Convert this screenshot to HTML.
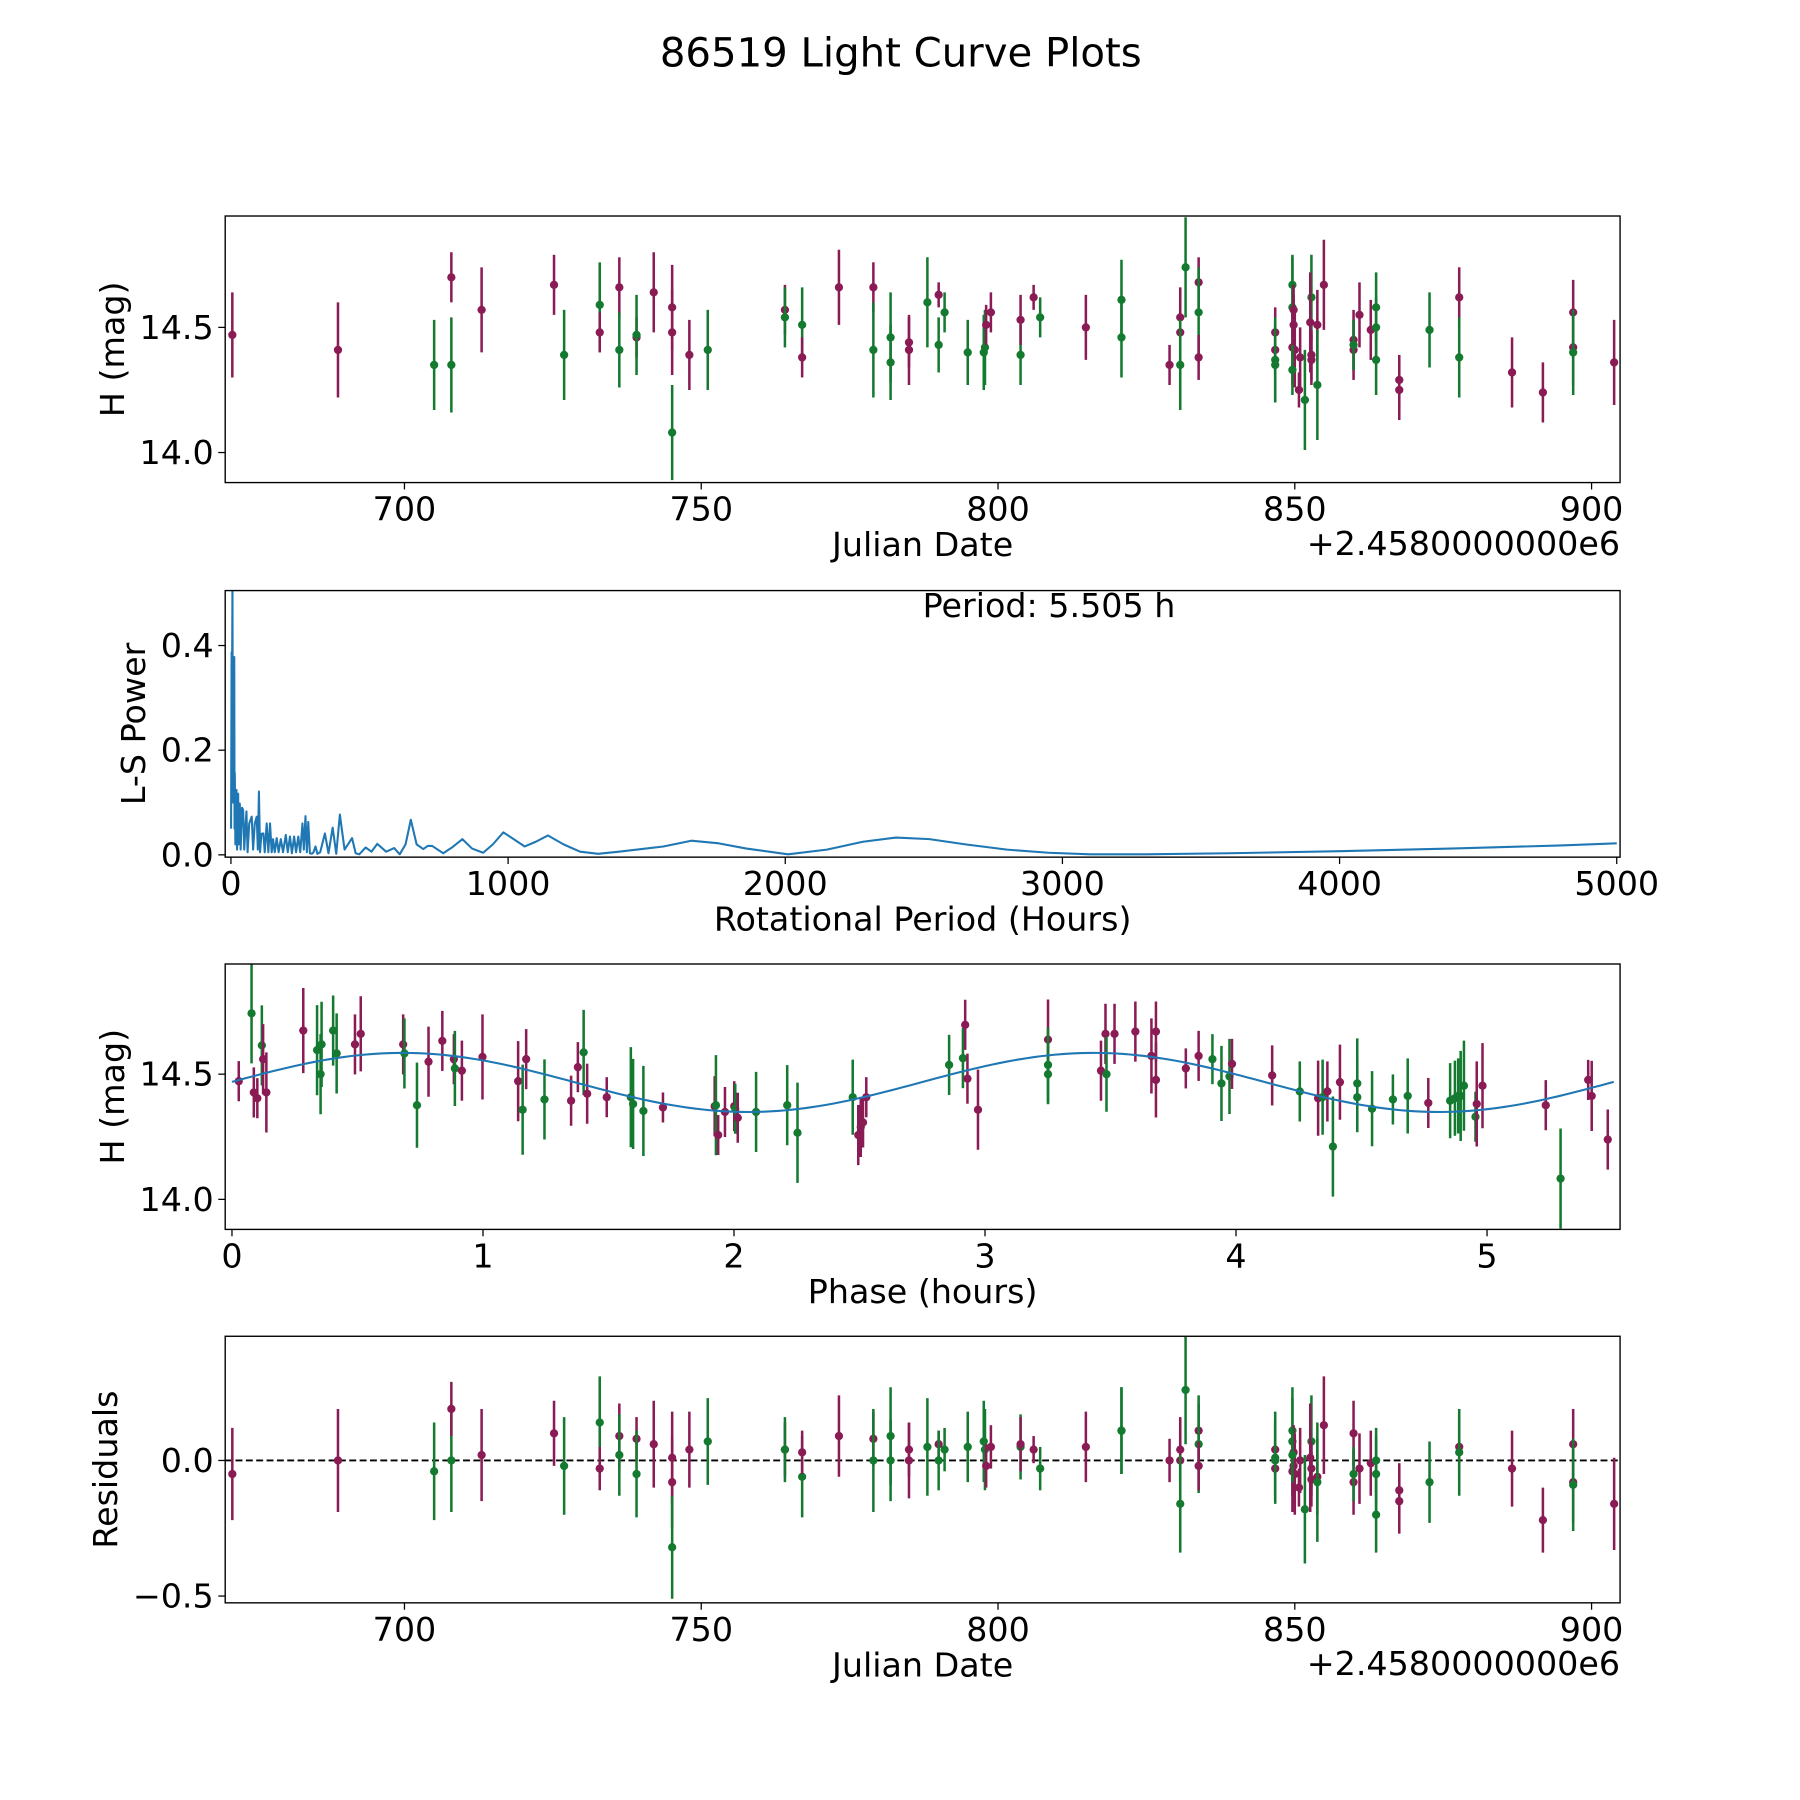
<!DOCTYPE html>
<html><head><meta charset="utf-8"><title>86519 Light Curve Plots</title>
<style>html,body{margin:0;padding:0;background:#fff}svg{display:block}text{font-family:"DejaVu Sans","Liberation Sans",sans-serif;fill:#000}</style>
</head><body>
<svg id="fig" xmlns="http://www.w3.org/2000/svg" width="1800" height="1800" viewBox="0 0 1566.6 1566.6">
<rect width="1570" height="1570" fill="#fff"/>
<text x="784" y="58" font-size="35" text-anchor="middle">86519 Light Curve Plots</text>
</svg>
<script>
// ---- Light curve data (Julian Date offset from 2458000) ----
const jd = [671.0,688.8,705.0,707.9,707.9,713.0,725.2,726.9,732.9,732.9,736.2,736.2,739.1,739.1,742.0,745.1,745.1,745.1,748.0,751.1,764.1,764.1,767.0,767.0,773.2,779.0,779.0,781.9,781.9,785.0,785.0,788.1,790.0,790.0,791.0,794.9,797.6,797.8,798.0,798.8,803.8,803.8,806.0,807.1,814.8,820.8,820.8,828.9,830.7,830.7,830.7,831.6,833.8,833.8,833.8,846.7,846.7,846.7,846.7,849.6,849.6,849.8,849.8,849.6,850.0,849.6,850.7,850.9,851.7,852.8,852.6,852.8,852.8,853.8,853.8,854.9,859.9,859.9,859.9,860.9,862.8,863.7,863.7,863.7,867.6,867.6,872.7,877.7,877.7,886.6,891.8,896.9,896.9,896.9,903.8];
const mag = [14.47,14.41,14.35,14.35,14.70,14.57,14.67,14.39,14.59,14.48,14.66,14.41,14.46,14.47,14.64,14.58,14.48,14.08,14.39,14.41,14.57,14.54,14.51,14.38,14.66,14.66,14.41,14.46,14.36,14.44,14.41,14.60,14.63,14.43,14.56,14.40,14.40,14.42,14.51,14.56,14.39,14.53,14.62,14.54,14.50,14.61,14.46,14.35,14.54,14.48,14.35,14.74,14.68,14.56,14.38,14.48,14.41,14.37,14.35,14.67,14.58,14.57,14.51,14.42,14.41,14.33,14.25,14.38,14.21,14.62,14.52,14.39,14.37,14.51,14.27,14.67,14.45,14.41,14.43,14.55,14.49,14.50,14.58,14.37,14.29,14.25,14.49,14.62,14.38,14.32,14.24,14.56,14.42,14.40,14.36];
const magErr = [0.17,0.19,0.18,0.19,0.10,0.17,0.12,0.18,0.17,0.08,0.12,0.15,0.08,0.16,0.16,0.17,0.17,0.19,0.14,0.16,0.10,0.12,0.15,0.08,0.15,0.10,0.19,0.18,0.15,0.10,0.14,0.18,0.05,0.11,0.08,0.13,0.15,0.15,0.08,0.08,0.12,0.10,0.05,0.08,0.13,0.16,0.16,0.08,0.12,0.12,0.18,0.20,0.10,0.18,0.09,0.10,0.10,0.17,0.15,0.12,0.20,0.10,0.12,0.15,0.15,0.10,0.07,0.12,0.20,0.17,0.20,0.10,0.10,0.14,0.22,0.18,0.12,0.12,0.10,0.13,0.12,0.12,0.14,0.14,0.10,0.12,0.15,0.12,0.16,0.14,0.12,0.13,0.15,0.17,0.17];
const residuals = [-0.05,0.00,-0.04,0.00,0.19,0.02,0.10,-0.02,0.14,-0.03,0.09,0.02,0.08,-0.05,0.06,0.01,-0.08,-0.32,0.04,0.07,0.04,0.04,-0.06,0.03,0.09,0.08,0.00,0.09,0.00,0.04,0.00,0.05,0.06,0.00,0.04,0.05,0.07,0.04,-0.02,0.05,0.05,0.06,0.04,-0.03,0.05,0.11,0.11,0.00,0.04,0.00,-0.16,0.26,0.11,0.06,-0.02,0.04,-0.03,0.01,0.00,0.11,0.07,0.03,-0.02,-0.04,-0.05,0.02,-0.10,0.00,-0.18,0.07,0.01,-0.03,-0.07,-0.06,-0.08,0.13,0.10,-0.08,-0.05,-0.03,-0.01,0.00,-0.05,-0.20,-0.11,-0.15,-0.08,0.05,0.03,-0.03,-0.22,0.06,-0.08,-0.09,-0.16];
const band = ["P","P","G","G","P","P","P","G","G","P","P","G","P","G","P","P","P","G","P","G","P","G","G","P","P","P","G","G","G","P","P","G","P","G","G","G","G","G","P","P","G","P","P","G","P","G","G","P","P","P","G","G","P","G","P","P","P","G","G","G","G","P","P","P","P","G","P","P","G","G","P","P","P","P","G","P","P","P","G","P","P","G","G","G","P","P","G","P","G","P","P","P","P","G","P"];
// ---- Phase-folded data ----
const phase = [0.027,0.078,0.087,0.101,0.119,0.124,0.137,0.284,0.339,0.353,0.357,0.403,0.417,0.490,0.513,0.682,0.687,0.737,0.783,0.838,0.884,0.888,0.916,0.998,1.140,1.158,1.172,1.245,1.351,1.378,1.401,1.415,1.493,1.589,1.598,1.639,1.717,1.923,1.928,1.937,1.964,2.001,2.005,2.015,2.088,2.212,2.253,2.473,2.495,2.505,2.514,2.527,2.857,2.912,2.921,2.930,2.972,3.251,3.251,3.251,3.462,3.480,3.484,3.516,3.599,3.663,3.681,3.681,3.800,3.851,3.906,3.942,3.974,3.984,4.144,4.254,4.327,4.345,4.364,4.386,4.414,4.483,4.483,4.542,4.625,4.684,4.766,4.853,4.872,4.885,4.895,4.908,4.954,4.959,4.982,5.234,5.403,5.417,5.293,5.481];
const phaseMag = [14.472,14.743,14.427,14.404,14.615,14.560,14.427,14.674,14.596,14.500,14.619,14.674,14.583,14.619,14.661,14.619,14.583,14.376,14.550,14.633,14.560,14.523,14.514,14.569,14.472,14.358,14.560,14.399,14.394,14.528,14.587,14.422,14.408,14.408,14.381,14.353,14.367,14.372,14.376,14.257,14.349,14.372,14.362,14.326,14.349,14.376,14.266,14.408,14.257,14.289,14.307,14.408,14.537,14.564,14.697,14.482,14.358,14.638,14.537,14.500,14.514,14.661,14.500,14.661,14.670,14.573,14.670,14.477,14.523,14.573,14.560,14.463,14.491,14.541,14.495,14.431,14.404,14.408,14.431,14.211,14.468,14.463,14.408,14.362,14.399,14.413,14.385,14.394,14.404,14.413,14.413,14.454,14.330,14.381,14.454,14.376,14.477,14.413,14.083,14.239];
const phaseErr = [0.08,0.20,0.10,0.08,0.16,0.14,0.16,0.17,0.18,0.16,0.17,0.14,0.16,0.12,0.15,0.12,0.14,0.17,0.14,0.12,0.10,0.15,0.12,0.17,0.16,0.18,0.12,0.16,0.10,0.10,0.17,0.12,0.08,0.20,0.18,0.18,0.06,0.12,0.20,0.08,0.10,0.10,0.10,0.10,0.16,0.16,0.20,0.15,0.12,0.12,0.10,0.08,0.12,0.12,0.10,0.10,0.16,0.16,0.15,0.12,0.12,0.12,0.15,0.12,0.12,0.15,0.12,0.15,0.08,0.10,0.10,0.15,0.15,0.10,0.12,0.12,0.15,0.15,0.12,0.20,0.15,0.18,0.14,0.15,0.10,0.15,0.10,0.15,0.15,0.15,0.18,0.18,0.10,0.17,0.17,0.10,0.08,0.14,0.20,0.12];
const phaseBand = ["P","G","P","P","G","P","P","P","G","G","G","G","G","P","P","P","G","G","P","P","P","G","P","P","P","G","P","G","P","P","G","P","P","G","G","G","P","P","G","P","P","P","G","P","G","G","G","G","P","P","P","P","G","G","P","P","P","P","G","G","P","P","G","P","P","P","P","P","P","P","G","G","G","P","P","G","P","G","P","G","P","G","G","G","G","G","P","G","G","G","G","G","G","P","P","P","P","P","G","P"];
// ---- Fit model parameters: mean, amplitude, peak phase, sub-period ----
const fitMean = [14.467];
const fitAmp = [0.118];
const fitPeak = [0.68];
const fitHalfPeriod = [2.7525];
// ---- Lomb-Scargle periodogram ----
const lsPeriod = [0.5,2.4,3,5.5,7,12,13,14,16,20,22,26,28,32,35,40,44,48,52,56,60,66,75,80,86,93,97,101,105,110,117,122,129,135,141,147,152,158,165,172,180,188,198,205,213,220,228,235,243,250,258,263,269,274,279,285,292,298,305,312,322,339,352,367,380,393,410,437,450,463,486,507,528,560,589,609,630,649,670,694,710,726,766,800,835,870,910,945,983,1020,1060,1100,1144,1200,1260,1325,1400,1481,1560,1661,1760,1860,2010,2150,2280,2400,2520,2650,2800,2950,3100,3300,3600,4000,4400,4800,5000];
const lsPower = [0.05,0.387,0.2,0.52,0.1,0.378,0.05,0.156,0.02,0.124,0.01,0.117,0.02,0.098,0.01,0.09,0.086,0.01,0.05,0.083,0.005,0.06,0.073,0.01,0.06,0.073,0.01,0.121,0.005,0.04,0.041,0.005,0.06,0.005,0.06,0.005,0.03,0.005,0.032,0.005,0.03,0.005,0.038,0.005,0.035,0.003,0.035,0.005,0.035,0.005,0.06,0.01,0.074,0.005,0.063,0.003,0.002,0.005,0.016,0.002,0.005,0.041,0.003,0.052,0.002,0.077,0.01,0.032,0.003,0.001,0.014,0.006,0.021,0.006,0.013,0.001,0.02,0.067,0.02,0.011,0.017,0.017,0.003,0.015,0.030,0.012,0.004,0.02,0.043,0.03,0.016,0.025,0.037,0.02,0.006,0.002,0.006,0.011,0.016,0.027,0.022,0.012,0.001,0.01,0.025,0.033,0.03,0.02,0.01,0.004,0.001,0.001,0.003,0.007,0.012,0.018,0.022,0.023];
// ---- Tick labels ----
const jdTicks = [700,750,800,850,900];
const magTicks = [14.0,14.5];
const lsXTicks = [0,1000,2000,3000,4000,5000];
const lsYTicks = [0.0,0.2,0.4];
const phaseTicks = [0,1,2,3,4,5];
const resTicks = [-0.5,0.0];

const NS = "http://www.w3.org/2000/svg";
const svg = document.getElementById('fig');
const COL = {P:"#8a1b55", G:"#137a30"};
const FS = 29;

function el(tag, attrs, parent){
  const e = document.createElementNS(NS, tag);
  for (const k in attrs) e.setAttribute(k, attrs[k]);
  (parent||svg).appendChild(e);
  return e;
}
function makeAxes(name, box, xd, yd){
  const g = el('g', {});
  
  
  const sx = v => box.l + (v - xd[0]) / (xd[1] - xd[0]) * (box.r - box.l);
  const sy = v => box.b - (v - yd[0]) / (yd[1] - yd[0]) * (box.b - box.t);
  const cid = 'clip-' + name;
  const cp = el('clipPath', {id: cid}, g);
  el('rect', {x: box.l, y: box.t, width: box.r - box.l, height: box.b - box.t}, cp);
  const plot = el('g', {'clip-path': 'url(#' + cid + ')'}, g);
  
  
  return {g, plot, sx, sy, box};
}
function drawFrame(ax, xt, yt, fmtX, fmtY, xlabel, ylabel, ylabX){
  const {g, sx, sy, box} = ax;
  const fr = el('rect', {x: box.l, y: box.t, width: box.r - box.l, height: box.b - box.t, fill: 'none', stroke: '#000', 'stroke-width': 1.2}, g);
  
  
  xt.forEach(v => {
    const x = sx(v);
    el('line', {x1: x, x2: x, y1: box.b, y2: box.b + 6, stroke: '#000', 'stroke-width': 1.1}, g);
    const t = el('text', {x: x, y: box.b + 33, 'font-size': FS, 'text-anchor': 'middle'}, g);
    t.textContent = fmtX(v);
    
    
  });
  yt.forEach(v => {
    const y = sy(v);
    el('line', {x1: box.l - 6, x2: box.l, y1: y, y2: y, stroke: '#000', 'stroke-width': 1.1}, g);
    const t = el('text', {x: box.l - 10, y: y + 10, 'font-size': FS, 'text-anchor': 'end'}, g);
    t.textContent = fmtY(v);
    
    
  });
  const xl = el('text', {x: (box.l + box.r) / 2 + 0, y: box.b + 64, 'font-size': FS, 'text-anchor': 'middle'}, g);
  xl.textContent = xlabel;
  
  
  const cy = (box.t + box.b) / 2;
  const yl = el('text', {x: ylabX, y: cy, 'font-size': FS, 'text-anchor': 'middle', transform: 'rotate(-90 ' + ylabX + ' ' + cy + ')'}, g);
  yl.textContent = ylabel;
  
  
}
function offsetText(ax){
  const t = el('text', {x: ax.box.r, y: ax.box.b + 63, 'font-size': FS, 'text-anchor': 'end'}, ax.g);
  t.textContent = '+2.4580000000e6';
  
  
}
function errPoint(ax, x, y, e, c, name){
  const g = el('g', {}, ax.plot);
  
  
  el('line', {x1: ax.sx(x), x2: ax.sx(x), y1: ax.sy(y - e), y2: ax.sy(y + e), stroke: COL[c], 'stroke-width': 2.2}, g);
  el('circle', {cx: ax.sx(x), cy: ax.sy(y), r: 3.6, fill: COL[c]}, g);
}
const f1 = v => v.toFixed(1);
const f0 = v => String(v);

// Panel 1: light curve
const a1 = makeAxes('light-curve-panel', {l:196, r:1410, t:188, b:420}, [669.8, 904.8], [13.88, 14.945]);
for (let i = 0; i < jd.length; i++) errPoint(a1, jd[i], mag[i], magErr[i], band[i], 'observation-point');
drawFrame(a1, jdTicks, magTicks, f0, f1, 'Julian Date', 'H (mag)', 108);
offsetText(a1);

// Panel 2: periodogram
const a2 = makeAxes('periodogram-panel', {l:196, r:1410, t:514, b:746}, [-20.7, 5012], [-0.0044, 0.505]);
let d = '';
for (let i = 0; i < Math.min(lsPeriod.length, lsPower.length); i++) d += (i ? 'L' : 'M') + a2.sx(lsPeriod[i]).toFixed(2) + ' ' + a2.sy(lsPower[i]).toFixed(2);
const ls = el('path', {d: d, fill: 'none', stroke: '#1f77b4', 'stroke-width': 1.8, 'stroke-linejoin': 'round'}, a2.plot);


drawFrame(a2, lsXTicks, lsYTicks, f0, f1, 'Rotational Period (Hours)', 'L-S Power', 126);
const pt = el('text', {x: 913, y: 537, 'font-size': FS, 'text-anchor': 'middle'}, a2.g);
pt.textContent = 'Period: 5.505 h';



// Panel 3: phase folded
const a3 = makeAxes('phase-panel', {l:196, r:1410, t:839, b:1070}, [-0.027, 5.53], [13.88, 14.94]);
for (let i = 0; i < phase.length; i++) errPoint(a3, phase[i], phaseMag[i], phaseErr[i] !== undefined ? phaseErr[i] : 0.13, phaseBand[i], 'phase-point');
let fd = '';
for (let k = 0; k <= 200; k++) {
  const p = 5.505 * k / 200;
  const m = fitMean[0] + fitAmp[0] * Math.cos(2 * Math.PI * (p - fitPeak[0]) / fitHalfPeriod[0]);
  fd += (k ? 'L' : 'M') + a3.sx(p).toFixed(2) + ' ' + a3.sy(m).toFixed(2);
}
const fit = el('path', {d: fd, fill: 'none', stroke: '#1f77b4', 'stroke-width': 1.8}, a3.plot);


drawFrame(a3, phaseTicks, magTicks, f0, f1, 'Phase (hours)', 'H (mag)', 108);

// Panel 4: residuals
const a4 = makeAxes('residuals-panel', {l:196, r:1410, t:1163, b:1395}, [669.8, 904.8], [-0.525, 0.458]);
const zl = el('line', {x1: a4.sx(669.8), x2: a4.sx(904.8), y1: a4.sy(0), y2: a4.sy(0), stroke: '#000', 'stroke-width': 1.6, 'stroke-dasharray': '6 3'}, a4.plot);


for (let i = 0; i < jd.length; i++) errPoint(a4, jd[i], residuals[i], magErr[i], band[i], 'residual-point');
drawFrame(a4, jdTicks, resTicks, f0, v => v < 0 ? '\u2212' + Math.abs(v).toFixed(1) : v.toFixed(1), 'Julian Date', 'Residuals', 102);
offsetText(a4);
</script>
</body></html>
